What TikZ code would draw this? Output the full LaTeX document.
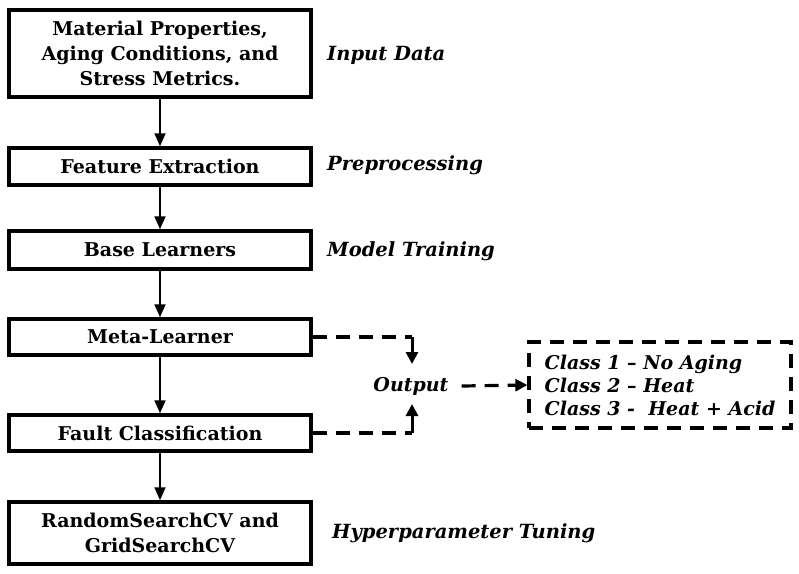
\documentclass[tikz,border=0pt]{standalone}
\usepackage{fontspec}
\setmainfont{DejaVu Serif}
\usetikzlibrary{arrows.meta}

\tikzset{
    stage/.style={draw, line width=3.5pt, minimum width=302pt, align=center,
        font=\fontsize{19}{25}\selectfont\bfseries},
    tag/.style={anchor=west, inner sep=0pt, font=\fontsize{19.5}{23}\selectfont\bfseries\itshape},
    flow/.style={line width=1.8pt, -{Triangle[length=13pt,width=11pt]}},
    dline/.style={line width=3.2pt, dash pattern=on 14pt off 9pt},
    dflow/.style={dline, -{Triangle[length=12pt,width=12pt]}},
    tip/.style={line width=3pt, -{Triangle[length=12pt,width=12pt]}}
}

\begin{document}
\begin{tikzpicture}[x=1pt, y=-1pt]
    % Frame
    \useasboundingbox (0,0) rectangle (799,573);

    % Main pipeline
    \node[stage, minimum height=87pt] (inp) at (160,53.5) {Material Properties,\\Aging Conditions, and\\Stress Metrics.};
    \node[stage, minimum height=37pt] (feat) at (160,166.5) {Feature Extraction};
    \node[stage, minimum height=38pt] (base) at (160,250) {Base Learners};
    \node[stage, minimum height=36pt] (meta) at (160,337) {Meta-Learner};
    \node[stage, minimum height=36pt] (fault) at (160,433) {Fault Classification};
    \node[stage, minimum height=62pt] (tune) at (160,533) {RandomSearchCV and\\GridSearchCV};

    \foreach \a/\b in {inp/feat, feat/base, base/meta, meta/fault, fault/tune} {
        \draw[flow] (\a) -- (\b);
    }

    % Stage labels
    \node[tag] (lin) at (327,55) {Input Data};
    \node[tag] (lpre) at (327,165) {Preprocessing};
    \node[tag] (ltrain) at (327,251) {Model Training};
    \node[tag] (ltune) at (332,533) {Hyperparameter Tuning};

    % Output branch
    \node[tag, anchor=center, inner xsep=13pt, font=\fontsize{19}{23}\selectfont\bfseries\itshape] (out) at (411,386) {Output};
    \coordinate (mturn) at (412,337);
    \coordinate (fturn) at (412,433);
    \coordinate (outtop) at (412,364);
    \coordinate (outbot) at (412,404);
    \draw[dline] (meta.east) -- (mturn);
    \draw[dline] (fault.east) -- (fturn);
    \draw[tip] (mturn) -- (outtop);
    \draw[tip] (fturn) -- (outbot);

    \node[draw, line width=3.2pt, dash pattern=on 14pt off 9pt, minimum width=262pt, minimum height=86pt,
        align=left, font=\fontsize{19}{23}\selectfont\bfseries\itshape] (cls) at (660,385)
        {Class 1 – No Aging\\Class 2 – Heat\\Class 3 -\ \ Heat + Acid};
    \draw[dflow] (out.east) -- (cls.west);
\end{tikzpicture}
\end{document}
